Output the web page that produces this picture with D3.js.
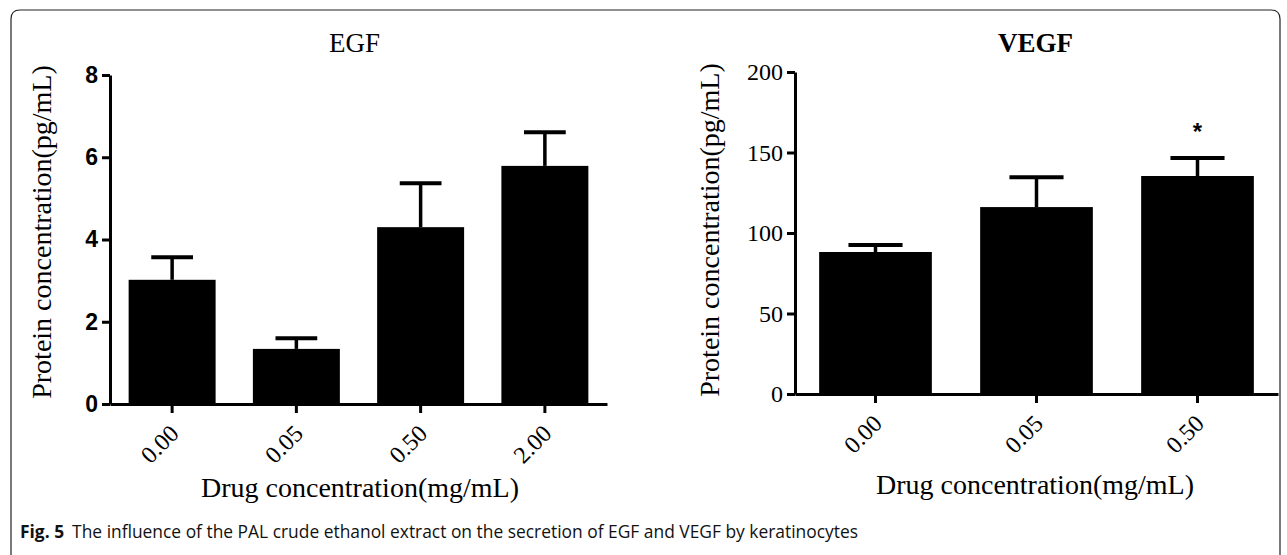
<!DOCTYPE html>
<html>
<head>
<meta charset="utf-8">
<script src="https://cdn.jsdelivr.net/npm/d3@7"></script>
<style>
  html, body { margin: 0; padding: 0; background: #fff; }
  svg { display: block; }
</style>
</head>
<body>
<div id="chart"></div>
<script>
// EGF panel
const egfDoses = ['0.00', '0.05', '0.50', '2.00'];
const egfMeans = [3.02, 1.34, 4.30, 5.79];
const egfErrors = [0.55, 0.26, 1.07, 0.82];
const egfTicks = [0, 2, 4, 6, 8];

// VEGF panel
const vegfDoses = ['0.00', '0.05', '0.50'];
const vegfMeans = [88.2, 116.1, 135.4];
const vegfErrors = [4.3, 18.6, 11.2];
const vegfMarks = ['', '', '*'];
const vegfTicks = [0, 50, 100, 150, 200];

const captionBold = 'Fig. 5';
const captionText = 'The influence of the PAL crude ethanol extract on the secretion of EGF and VEGF by keratinocytes';

const W = 1287, H = 555;
const serif = '"Liberation Serif", "Times New Roman", serif';
const sans = '"Liberation Sans", Arial, sans-serif';

const svg = d3.select('#chart').append('svg')
  .attr('width', W)
  .attr('height', H);

// frame round the figure (open at the bottom)
const r = 9;
svg.append('path')
  .attr('d', `M11,${H} V${10 + r} Q11,10 ${11 + r},10 H${1280 - r} Q1280,10 1280,${10 + r} V${H}`)
  .attr('fill', 'none')
  .attr('stroke', '#222')
  .attr('stroke-width', 1.2);

function drawPanel(cfg) {
  const g = svg.append('g');
  const x = d3.scaleBand()
    .domain(cfg.doses)
    .range([cfg.left, cfg.right])
    .paddingInner(0.3)
    .paddingOuter(0.15);
  const y = d3.scaleLinear()
    .domain([0, d3.max(cfg.ticks)])
    .range([cfg.bottom, cfg.top]);

  const data = cfg.doses.map((d, i) => ({ dose: d, mean: cfg.means[i], err: cfg.errors[i], mark: cfg.marks ? cfg.marks[i] : '' }));

  // bars
  g.selectAll('rect.bar').data(data).enter().append('rect')
    .attr('class', 'bar')
    .attr('x', d => x(d.dose))
    .attr('width', x.bandwidth())
    .attr('y', d => y(d.mean))
    .attr('height', d => y(0) - y(d.mean))
    .attr('fill', '#000');

  // error bars (upper only)
  const capW = x.bandwidth() * 0.48;
  const eb = g.selectAll('g.err').data(data).enter().append('g').attr('class', 'err');
  eb.append('line')
    .attr('x1', d => x(d.dose) + x.bandwidth() / 2)
    .attr('x2', d => x(d.dose) + x.bandwidth() / 2)
    .attr('y1', d => y(d.mean))
    .attr('y2', d => y(d.mean + d.err))
    .attr('stroke', '#000').attr('stroke-width', 3.5);
  eb.append('line')
    .attr('x1', d => x(d.dose) + x.bandwidth() / 2 - capW / 2)
    .attr('x2', d => x(d.dose) + x.bandwidth() / 2 + capW / 2)
    .attr('y1', d => y(d.mean + d.err))
    .attr('y2', d => y(d.mean + d.err))
    .attr('stroke', '#000').attr('stroke-width', 4);

  // significance marks
  g.selectAll('text.mark').data(data.filter(d => d.mark)).enter().append('text')
    .attr('class', 'mark')
    .attr('x', d => x(d.dose) + x.bandwidth() / 2)
    .attr('y', d => y(d.mean + d.err) - 18)
    .attr('text-anchor', 'middle')
    .style('font-family', sans)
    .style('font-weight', 'bold')
    .style('font-size', '24px')
    .text(d => d.mark);

  // y axis
  const yAxis = g.append('g')
    .attr('transform', `translate(${cfg.left},0)`)
    .call(d3.axisLeft(y).tickValues(cfg.ticks).tickSize(8).tickSizeOuter(0).tickPadding(4));
  yAxis.select('.domain').attr('stroke', '#000').attr('stroke-width', 3);
  yAxis.selectAll('.tick line').attr('stroke', '#000').attr('stroke-width', 3);
  yAxis.selectAll('.tick text')
    .attr('fill', '#000')
    .style('font-family', cfg.tickFont)
    .style('font-weight', cfg.tickWeight)
    .style('font-size', cfg.tickSize);

  // x axis
  const xAxis = g.append('g')
    .attr('transform', `translate(0,${cfg.bottom})`)
    .call(d3.axisBottom(x).tickSize(9).tickSizeOuter(0));
  xAxis.select('.domain').attr('stroke', '#000').attr('stroke-width', 3);
  xAxis.selectAll('.tick line').attr('stroke', '#000').attr('stroke-width', 3);
  xAxis.selectAll('.tick text')
    .attr('fill', '#000')
    .attr('text-anchor', 'end')
    .attr('dy', null)
    .attr('y', 0)
    .attr('transform', 'translate(8,31) rotate(-45)')
    .style('font-family', serif)
    .style('font-size', '24px');

  // titles
  g.append('text')
    .attr('x', (cfg.left + cfg.right) / 2 + cfg.titleShift)
    .attr('y', 52)
    .attr('text-anchor', 'middle')
    .style('font-family', serif)
    .style('font-weight', cfg.titleWeight)
    .style('font-size', '27px')
    .text(cfg.title);

  g.append('text')
    .attr('transform', `translate(${cfg.ylabelX},${cfg.ylabelY}) rotate(-90)`)
    .attr('text-anchor', 'middle')
    .style('font-family', serif)
    .style('font-size', '28px')
    .text('Protein concentration(pg/mL)');

  g.append('text')
    .attr('x', cfg.xlabelX)
    .attr('y', cfg.xlabelY)
    .attr('text-anchor', 'middle')
    .style('font-family', serif)
    .style('font-size', '28px')
    .text('Drug concentration(mg/mL)');
}

drawPanel({
  doses: egfDoses, means: egfMeans, errors: egfErrors, ticks: egfTicks,
  left: 110, right: 607, top: 75, bottom: 404,
  tickFont: sans, tickWeight: 'bold', tickSize: '23px',
  title: 'EGF', titleWeight: 'normal', titleShift: -4,
  ylabelX: 51, ylabelY: 232, xlabelX: 360, xlabelY: 497
});

drawPanel({
  doses: vegfDoses, means: vegfMeans, errors: vegfErrors, marks: vegfMarks, ticks: vegfTicks,
  left: 795, right: 1278, top: 72, bottom: 394,
  tickFont: serif, tickWeight: 'normal', tickSize: '24px',
  title: 'VEGF', titleWeight: 'bold', titleShift: -1,
  ylabelX: 719, ylabelY: 230, xlabelX: 1035, xlabelY: 494
});

// caption
const cap = svg.append('text')
  .attr('x', 20)
  .attr('y', 538)
  .style('font-family', '"Open Sans", "Noto Sans", sans-serif')
  .style('font-size', '17.4px')
  .attr('fill', '#111');
cap.append('tspan').style('font-weight', 'bold').text(captionBold);
cap.append('tspan').attr('dx', 8).text(captionText);
</script>
</body>
</html>
